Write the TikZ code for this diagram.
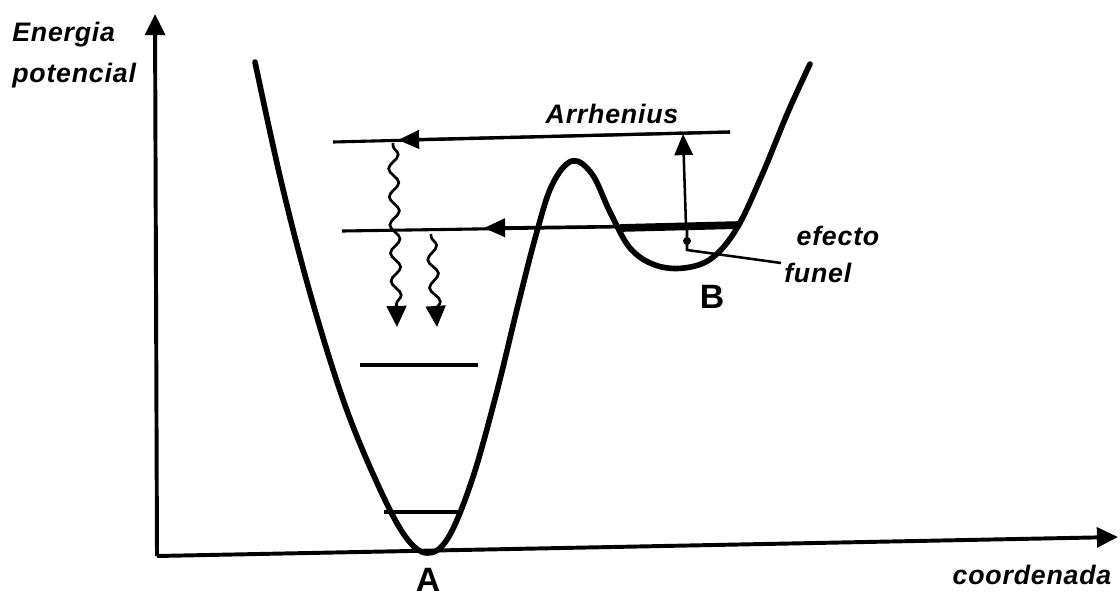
\documentclass[tikz,border=0pt]{standalone}
\usepackage{fontspec}
\setmainfont{Liberation Sans}
\usetikzlibrary{arrows.meta, positioning, decorations.pathmorphing}

\begin{document}
\begin{tikzpicture}[
  x=0.025cm, y=-0.025cm,
  lbl/.style={font=\fontsize{19}{29}\selectfont\bfseries\itshape\addfontfeatures{LetterSpace=3}, inner sep=0pt},
  pt/.style={font=\fontsize{24}{26}\selectfont\bfseries, inner sep=0pt},
  axis/.style={line width=2.8pt, -{Triangle[length=15pt, width=14pt]}},
  level/.style={line width=2.2pt},
  curve/.style={line width=4pt, line join=round, line cap=round},
  arr/.style={-{Triangle[length=15pt, width=13pt]}},
  wave/.style={line width=1.9pt, -{Triangle[length=15pt, width=14pt]}, decorate,
               decoration={snake, amplitude=3.5pt, segment length=20pt, pre length=2pt, post length=10pt}}
]
  \useasboundingbox (0,0) rectangle (1120,600);

  \coordinate (o) at (157,556);
  \coordinate (ytip) at (155,14);
  \coordinate (xtip) at (1118,537);
  \draw[axis] (o) -- (ytip);
  \draw[axis] (o) -- (xtip);

  \node[lbl, align=left, anchor=north west] (ylab) at (12,22) {Energia\\potencial};
  \node[lbl] (xlab) at (1032,575) {coordenada};
  \node[pt] (A) at (428,580) {A};
  \node[pt] (B) at (712,297) {B};
  \node[lbl] (arrh) at (612,114) {Arrhenius};
  \node[lbl] (efecto) at (838,236) {efecto};
  \node[lbl, anchor=west] (funel) at (784,273) {funel};

  \draw[curve] plot[smooth, tension=0.6] coordinates {
    (255,62) (282,185) (312,300) (345,405) (378,485) (405,536) (427,553)
    (448,538) (472,480) (496,395) (518,305) (536,235) (552,185) (572,161)
    (592,174) (610,212) (630,248) (655,265) (684,268) (712,258) (737,228)
    (762,175) (788,112) (810,64)};

  % niveles
  \coordinate (l1a) at (333,142);
  \coordinate (l1m) at (398,140);
  \coordinate (l1b) at (730,132);
  \coordinate (l2a) at (342,231);
  \coordinate (l2m) at (484,228);
  \coordinate (l2b) at (740,225);
  \coordinate (l2t) at (620,228);
  \draw[level] (l1b) -- (l1a);
  \draw[level, arr] (l1b) -- (l1m);
  \draw[level] (l2b) -- (l2a);
  \draw[level, arr] (l2b) -- (l2m);
  \draw[line width=5.5pt] (l2t) -- (l2b);
  \coordinate (l3a) at (360,365);
  \coordinate (l3b) at (478,365);
  \draw[level] (l3a) -- (l3b);
  \coordinate (l4a) at (384,512);
  \coordinate (l4b) at (459,512);
  \draw[level] (l4a) -- (l4b);

  \coordinate (w1a) at (393,143);
  \coordinate (w1b) at (397,327);
  \coordinate (w2a) at (431,234);
  \coordinate (w2b) at (437,327);
  \foreach \x/\y in {w1a/w1b, w2a/w2b}
    \draw[wave] (\x) -- (\y);

  \coordinate (ar0) at (686,226);
  \coordinate (ar1) at (683,134);
  \draw[line width=1.8pt, arr] (ar0) -- (ar1);

  \coordinate (t0) at (687,229);
  \coordinate (t1) at (687,250);
  \coordinate (t2) at (781,263);
  \draw[line width=1.8pt] (t0) -- (t1) -- (t2);
  \fill (687,241) circle (4);
\end{tikzpicture}
\end{document}
